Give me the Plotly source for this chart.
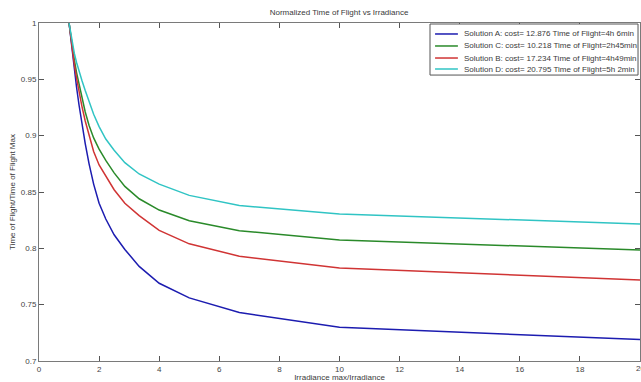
import plotly.graph_objects as go

# x = Irradiance max / Irradiance (sampled at 1/f, f = 1.00, 0.95, ..., 0.05)
x_vals = [1.0, 1.0526, 1.1111, 1.1765, 1.25, 1.3333, 1.4286, 1.5385, 1.6667, 1.8182,
          2.0, 2.2222, 2.5, 2.8571, 3.3333, 4.0, 5.0, 6.6667, 10.0, 20.0]

sol_a = [1.000, 0.987, 0.973, 0.958, 0.943, 0.927, 0.910, 0.893, 0.875, 0.857,
         0.840, 0.826, 0.812, 0.799, 0.784, 0.769, 0.756, 0.743, 0.730, 0.719]
sol_c = [1.000, 0.989, 0.978, 0.967, 0.956, 0.945, 0.933, 0.921, 0.909, 0.898,
         0.888, 0.878, 0.867, 0.855, 0.844, 0.834, 0.8245, 0.8157, 0.8074, 0.7985]
sol_b = [1.000, 0.988, 0.975, 0.963, 0.951, 0.938, 0.926, 0.913, 0.900, 0.886,
         0.874, 0.864, 0.852, 0.840, 0.829, 0.816, 0.804, 0.793, 0.7825, 0.772]
sol_d = [1.000, 0.991, 0.982, 0.973, 0.965, 0.957, 0.949, 0.940, 0.930, 0.919,
         0.908, 0.897, 0.887, 0.876, 0.866, 0.857, 0.847, 0.838, 0.8305, 0.8216]

series_names = [
    "Solution A: cost= 12.876 Time of Flight=4h 6min",
    "Solution C: cost= 10.218 Time of Flight=2h45min",
    "Solution B: cost= 17.234 Time of Flight=4h49min",
    "Solution D: cost= 20.795 Time of Flight=5h 2min",
]
series_values = [sol_a, sol_c, sol_b, sol_d]
series_colors = ["#1c1cb0", "#2a8a2a", "#d03434", "#30c4c4"]

x_ticks = [0, 2, 4, 6, 8, 10, 12, 14, 16, 18, 20]
y_ticks = [0.7, 0.75, 0.8, 0.85, 0.9, 0.95, 1.0]
y_tick_text = ["0.7", "0.75", "0.8", "0.85", "0.9", "0.95", "1"]

FONT = "Liberation Sans, Arial, sans-serif"
TXT = "#3a3a3a"

fig = go.Figure()
for name, vals, col in zip(series_names, series_values, series_colors):
    fig.add_trace(go.Scatter(x=x_vals, y=vals, mode="lines", name=name,
                             line=dict(color=col, width=1.5), showlegend=False))

axis_common = dict(showgrid=False, zeroline=False, showline=True, linecolor="#7a7a7a",
                   linewidth=1, ticks="inside", ticklen=5, tickcolor="#555555",
                   mirror="ticks", tickfont=dict(size=8, color="#444444", family=FONT))

# Legend box (drawn in paper coordinates, top-right of the axes)
leg_x0, leg_x1 = 0.6506, 0.9967
leg_y0, leg_y1 = 0.846, 0.997
row_y = [0.9675, 0.9320, 0.8964, 0.8639]
shapes = [dict(type="rect", xref="paper", yref="paper", x0=leg_x0, x1=leg_x1,
               y0=leg_y0, y1=leg_y1, line=dict(color="#555555", width=1),
               fillcolor="white", layer="above")]
annotations = []
for name, col, ry in zip(series_names, series_colors, row_y):
    shapes.append(dict(type="line", xref="paper", yref="paper", x0=0.659, x1=0.697,
                       y0=ry, y1=ry, line=dict(color=col, width=1.5), layer="above"))
    annotations.append(dict(xref="paper", yref="paper", x=0.703, y=ry, text=name,
                            showarrow=False, xanchor="left", yanchor="middle",
                            font=dict(size=8, color=TXT, family=FONT)))
# last x tick label, clipped by the page edge as in the original
annotations.append(dict(xref="x", yref="paper", x=20, y=0, yshift=-7, text="20",
                        showarrow=False, xanchor="center", yanchor="middle",
                        font=dict(size=8, color="#444444", family=FONT)))

fig.update_layout(
    width=641, height=382,
    margin=dict(l=39, r=1, t=23, b=21),
    paper_bgcolor="white", plot_bgcolor="white",
    font=dict(family=FONT, size=8, color=TXT),
    title=dict(text="Normalized Time of Flight vs Irradiance", x=0.529, xanchor="center",
               y=0.968, yanchor="middle", font=dict(size=8, color=TXT)),
    xaxis=dict(range=[0, 20], tickvals=x_ticks[:-1],
               title=dict(text="Irradiance max/Irradiance", standoff=3, font=dict(size=8)),
               **axis_common),
    yaxis=dict(range=[0.7, 1.0], tickvals=y_ticks, ticktext=y_tick_text,
               title=dict(text="Time of Flight/Time of Flight Max", standoff=4, font=dict(size=8)),
               **axis_common),
    shapes=shapes,
    annotations=annotations,
    showlegend=False,
)
# keep the tick mark at 20 (top/bottom) even though its label is an annotation
fig.update_xaxes(tickvals=x_ticks, ticktext=[str(t) for t in x_ticks[:-1]] + [""])

fig.write_html("out.html")
